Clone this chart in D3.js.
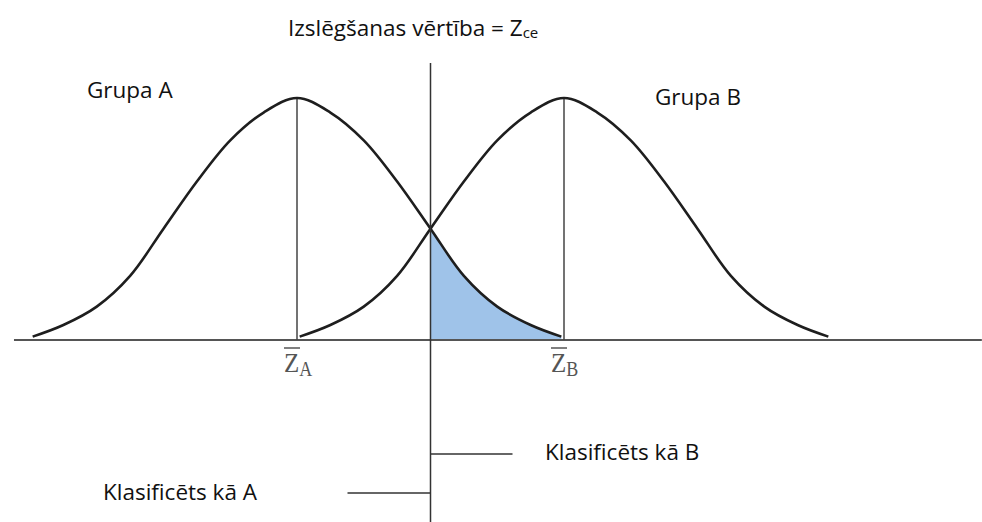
<!DOCTYPE html>
<html>
<head>
<meta charset="utf-8">
<script src="https://cdn.jsdelivr.net/npm/d3@7/dist/d3.min.js"></script>
<style>
  html, body { margin: 0; padding: 0; background: #fff; }
  svg { display: block; }
  .lbl { font-family: "Open Sans", sans-serif; font-size: 22.5px; fill: #111; }
  .zlbl { font-family: "Liberation Serif", "DejaVu Serif", serif; fill: #555; }
</style>
</head>
<body>
<svg id="chart" width="982" height="522"></svg>
<script>
// Group means and the cut-off score on the z scale
const groupNames = ["A", "B"];
const groupMeans = [-1, 1];
const cutoff = 0;

// Bell-shaped frequency profile: offset from the group mean (z) and relative height
const zOffsets = [-1.98, -1.75, -1.5, -1.25, -1, -0.75, -0.5, -0.25, 0,
                  0.25, 0.5, 0.75, 1, 1.25, 1.5, 1.75, 1.98];
const density  = [0.014, 0.062, 0.138, 0.265, 0.46, 0.655, 0.825, 0.94, 1,
                  0.94, 0.825, 0.655, 0.46, 0.265, 0.138, 0.062, 0.014];

// Extent of the horizontal axis (z)
const axisExtent = [-3.12, 4.13];

// Text labels
const titleMain = "Izslēgšanas vērtība = Z";
const titleSub = "ce";
const groupLabels = ["Grupa A", "Grupa B"];
const classLabels = ["Klasificēts kā A", "Klasificēts kā B"];

const svg = d3.select("#chart");

const x = d3.scaleLinear().domain([-1, 1]).range([297, 564]);
const y = d3.scaleLinear().domain([0, 1]).range([340, 98]);

const curveData = groupMeans.map(m => zOffsets.map((d, i) => ({ z: m + d, h: density[i] })));

const line = d3.line().x(d => x(d.z)).y(d => y(d.h)).curve(d3.curveCatmullRom.alpha(0.5));
const area = d3.area().x(d => x(d.z)).y0(y(0)).y1(d => y(d.h)).curve(d3.curveCatmullRom.alpha(0.5));

// Shaded tail of group A beyond the cut-off, up to the mean of group B
svg.append("clipPath").attr("id", "tail")
  .append("rect")
  .attr("x", x(cutoff)).attr("y", 0)
  .attr("width", x(groupMeans[1]) - x(cutoff)).attr("height", y(0));

svg.append("path")
  .datum(curveData[0])
  .attr("d", area)
  .attr("clip-path", "url(#tail)")
  .attr("fill", "#9fc3e9");

// Horizontal axis
svg.append("line")
  .attr("x1", x(axisExtent[0])).attr("x2", x(axisExtent[1]))
  .attr("y1", y(0)).attr("y2", y(0))
  .attr("stroke", "#555").attr("stroke-width", 2);

// Vertical lines at the group means
svg.selectAll(".meanline")
  .data(groupMeans)
  .join("line")
  .attr("class", "meanline")
  .attr("x1", d => x(d)).attr("x2", d => x(d))
  .attr("y1", y(1)).attr("y2", y(0))
  .attr("stroke", "#444").attr("stroke-width", 1.5);

// Distribution curves
svg.selectAll(".curve")
  .data(curveData)
  .join("path")
  .attr("class", "curve")
  .attr("d", line)
  .attr("fill", "none")
  .attr("stroke", "#1e1e1e")
  .attr("stroke-width", 2.6);

// Cut-off line
svg.append("line")
  .attr("x1", x(cutoff)).attr("x2", x(cutoff))
  .attr("y1", 63).attr("y2", 522)
  .attr("stroke", "#333").attr("stroke-width", 1.5);

// Classification markers
svg.append("line")
  .attr("x1", x(cutoff)).attr("x2", x(cutoff) + 82)
  .attr("y1", 454).attr("y2", 454)
  .attr("stroke", "#333").attr("stroke-width", 1.5);
svg.append("line")
  .attr("x1", x(cutoff) - 83).attr("x2", x(cutoff))
  .attr("y1", 493).attr("y2", 493)
  .attr("stroke", "#333").attr("stroke-width", 1.5);

// Title
const title = svg.append("text").attr("class", "lbl").attr("x", 288).attr("y", 36);
title.append("tspan").text(titleMain);
title.append("tspan").attr("font-size", 15).attr("dy", 2).text(titleSub);

// Group labels
svg.append("text").attr("class", "lbl").attr("x", 87).attr("y", 98).text(groupLabels[0]);
svg.append("text").attr("class", "lbl").attr("x", 655).attr("y", 105).text(groupLabels[1]);

// Classification labels
svg.append("text").attr("class", "lbl").attr("x", 103).attr("y", 500).text(classLabels[0]);
svg.append("text").attr("class", "lbl").attr("x", 545).attr("y", 460).text(classLabels[1]);

// Mean labels: Z-bar with group subscript
groupMeans.forEach((m, i) => {
  const g = svg.append("g").attr("transform", `translate(${x(m) - 13},372)`);
  const t = g.append("text").attr("class", "zlbl").attr("x", 0).attr("y", 0)
    .attr("transform", "scale(1,1.12)");
  t.append("tspan").attr("font-size", 25).text("Z");
  t.append("tspan").attr("font-size", 18).attr("dy", 4).text(groupNames[i]);
  g.append("line")
    .attr("x1", 0).attr("x2", 16)
    .attr("y1", -24).attr("y2", -24)
    .attr("stroke", "#555").attr("stroke-width", 1.5);
});
</script>
</body>
</html>
